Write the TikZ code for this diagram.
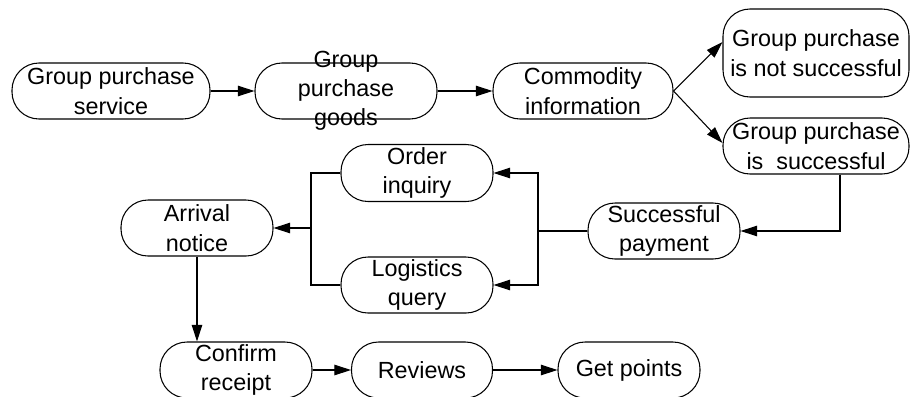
\documentclass[tikz,border=0pt]{standalone}
\usepackage{fontspec}
\newfontfamily\arialf{Liberation Sans}
\usetikzlibrary{arrows.meta,calc}
\def\u{0.02cm}
\begin{document}
\begin{tikzpicture}[x=0.02cm,y=-0.02cm,
  box/.style={draw,line width=0.6pt,rounded corners=0.54cm,inner sep=0pt,
    align=center,font=\arialf\fontsize{13.3}{17}\selectfont,
    minimum height=56*\u},
  txt/.style={inner sep=0pt,align=center,font=\arialf\fontsize{13.3}{16.5}\selectfont},
  conn/.style={line width=0.6pt},
  arrow/.style={conn,-{Triangle[length=9.5pt,width=6pt]}}]
\useasboundingbox (0,0) rectangle (911,396);
\node[box,minimum width=198*\u] (svc) at (111,91) {Group purchase\\service};
\node[box,minimum width=182*\u,label={[txt]center:{Group\\purchase\\goods}}] (goods) at (346,91) {};
\node[box,minimum width=180*\u] (comm) at (583,91) {Commodity\\information};
\node[box,minimum width=186*\u,minimum height=88*\u] (notok) at (816,53) {Group purchase\\is not successful};
\node[box,minimum width=186*\u] (ok) at (816,146) {Group purchase\\is\ \ successful};
\node[box,minimum width=152*\u] (pay) at (664,231) {Successful\\payment};
\node[box,minimum width=152*\u,minimum height=57*\u] (order) at (417,173) {Order\\inquiry};
\node[box,minimum width=152*\u] (logi) at (417,285) {Logistics\\query};
\node[box,minimum width=152*\u] (arrival) at (197,228) {Arrival\\notice};
\node[box,minimum width=152*\u] (conf) at (236,370) {Confirm\\receipt};
\node[box,minimum width=141*\u] (rev) at (422,370) {Reviews};
\node[box,minimum width=142*\u] (pts) at (629,370) {Get points};
\draw[arrow] (svc.east) -- (goods.west);
\draw[arrow] (goods.east) -- (comm.west);
\draw[arrow] (comm.east) -- ([yshift=11*\u]notok.west);
\draw[arrow] (comm.east) -- ([yshift=3*\u]ok.west);
\draw[arrow] ([xshift=24*\u]ok.south) |- (pay.east);
\coordinate (jr) at (538,231);
\coordinate (jl) at (311,228);
\draw[conn] (pay.west) -- (jr);
\draw[arrow] (jr) |- (order.east);
\draw[arrow] (jr) |- (logi.east);
\draw[conn] (order.west) -| (jl) |- (logi.west);
\draw[arrow] (jl) -- (arrival.east);
\draw[arrow] (arrival.south) -- (arrival.south |- conf.north);
\draw[arrow] (conf.east) -- (rev.west);
\draw[arrow] (rev.east) -- (pts.west);
\end{tikzpicture}
\end{document}
